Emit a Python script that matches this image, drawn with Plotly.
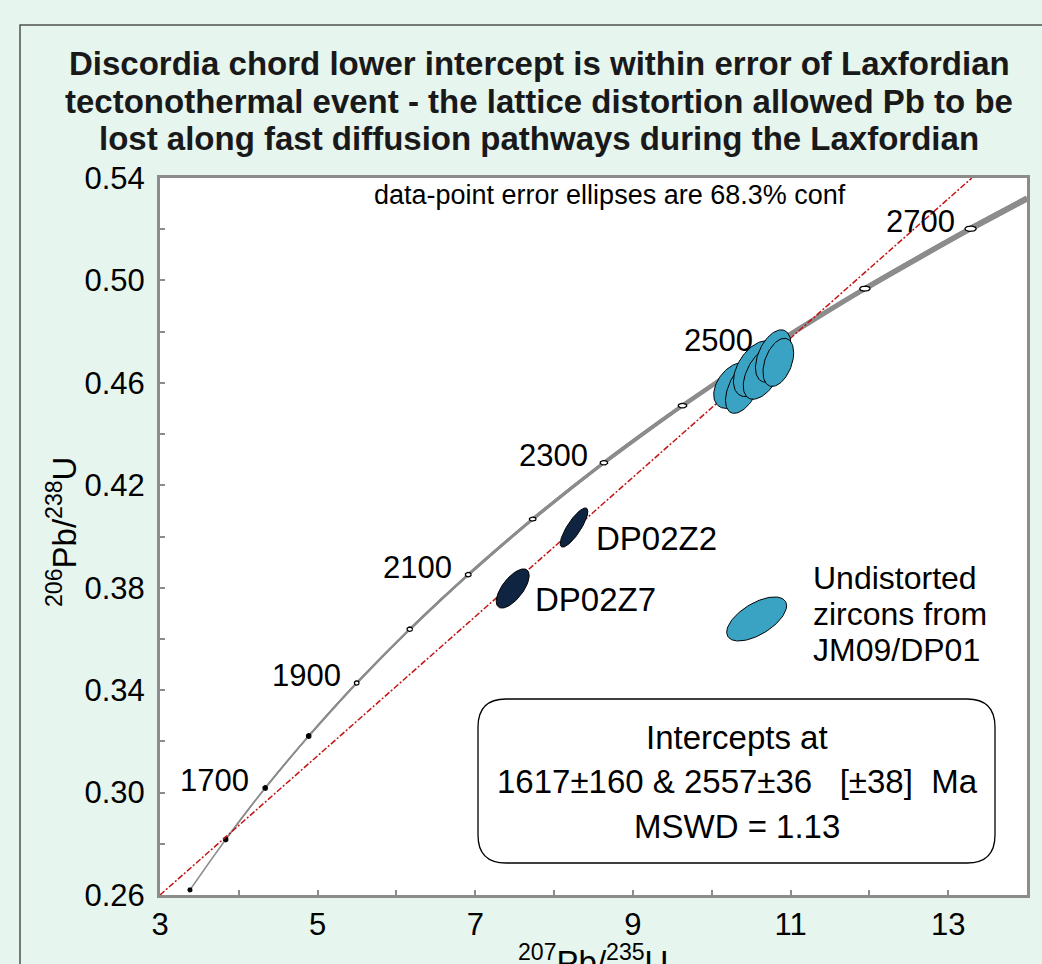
import numpy as np
import plotly.graph_objects as go

# ---------------- data ----------------
conc_age = [1500, 1600, 1700, 1800, 1900, 2000, 2100, 2200, 2300, 2400, 2500, 2600, 2700]
conc_x = [3.381, 3.834, 4.335, 4.887, 5.496, 6.169, 6.911, 7.729, 8.632, 9.629, 10.730, 11.944, 13.284]
conc_y = [0.2620, 0.2817, 0.3018, 0.3221, 0.3428, 0.3638, 0.3851, 0.4068, 0.4288, 0.4511, 0.4738, 0.4968, 0.5202]
conc_end_x = 14.0
conc_end_y = 0.5320
label_ages = [1700, 1900, 2100, 2300, 2500, 2700]

chord_x = [3.0, 13.30]
chord_y = [0.2600, 0.5400]

undist_x = [10.290, 10.405, 10.560, 10.650, 10.780, 10.845]
undist_y = [0.4590, 0.4585, 0.4655, 0.4640, 0.4705, 0.4680]
undist_sx = [0.265, 0.230, 0.285, 0.250, 0.225, 0.195]
undist_sy = [0.00900, 0.01040, 0.01090, 0.01040, 0.0102, 0.00940]
undist_rho = [0.40, 0.52, 0.45, 0.50, 0.45, 0.40]

dp_names = ["DP02Z2", "DP02Z7"]
dp_x = [8.253, 7.475]
dp_y = [0.4035, 0.3797]
dp_sx = [0.175, 0.209]
dp_sy = [0.00765, 0.00765]
dp_rho = [0.82, 0.66]

legend_x = 10.570
legend_y = 0.3678
legend_sx = 0.380
legend_sy = 0.00859
legend_rho = 0.60
legend_lines = ["Undistorted", "zircons from", "JM09/DP01"]

intercept_lines = ["Intercepts at",
                   "1617±160 & 2557±36\u00a0\u00a0\u00a0[±38]\u00a0\u00a0Ma",
                   "MSWD = 1.13"]
title_lines = ["Discordia chord lower intercept is within error of Laxfordian",
               "tectonothermal event - the lattice distortion allowed Pb to be",
               "lost along fast diffusion pathways during the Laxfordian"]
note_text = "data-point error ellipses are 68.3% conf"

x_ticks = list(range(3, 15))
x_tick_text = ["3", "", "5", "", "7", "", "9", "", "11", "", "13", ""]
y_ticks = [0.26, 0.28, 0.30, 0.32, 0.34, 0.36, 0.38, 0.40, 0.42, 0.44, 0.46, 0.48, 0.50, 0.52, 0.54]
y_tick_text = ["0.26", "", "0.30", "", "0.34", "", "0.38", "", "0.42", "", "0.46", "", "0.50", "", "0.54"]

# ---------------- layout geometry ----------------
W, H = 1042, 964
L, R, T, B = 160, 1027, 178, 895
XR = [3, 14]
YR = [0.26, 0.54]
kx = (XR[1] - XR[0]) / (R - L)   # data per px
ky = (YR[1] - YR[0]) / (B - T)

def px_x(p):
    return (p - L) / (R - L)

def px_y(p):
    return (B - p) / (B - T)

FONT = "Liberation Sans, Arial, sans-serif"
GRAY = "rgb(140,140,140)"
TEAL = "rgb(58,163,196)"
NAVY = "rgb(14,36,64)"

def ellipse(cx, cy, sx, sy, rho, n=91):
    t = np.linspace(0, 2 * np.pi, n)
    x = cx + sx * np.cos(t)
    y = cy + sy * (rho * np.cos(t) + np.sqrt(1 - rho ** 2) * np.sin(t))
    return x, y

fig = go.Figure()

# concordia curve, widening with age
cx_all = conc_x + [conc_end_x]
cy_all = conc_y + [conc_end_y]
n = len(conc_x)
for k in range(n):
    w = 1.5 + 4.5 * (k / (n - 1)) ** 1.6
    fig.add_trace(go.Scatter(x=cx_all[k:], y=cy_all[k:], mode="lines",
                             line=dict(color=GRAY, width=w, shape="spline"),
                             hoverinfo="skip"))

# concordia age markers
hw = [2, 2.3, 2.3, 2.3, 2.4, 2.8, 3, 3.4, 3.8, 4.3, 4.8, 5.2, 5.6]
hh = [2, 2.3, 2.3, 2.3, 2.2, 2.2, 2.2, 2.0, 2.2, 2.3, 2.5, 2.5, 2.7]
t = np.linspace(0, 2 * np.pi, 41)
for k in range(n):
    mx = conc_x[k] + hw[k] * kx * np.cos(t)
    my = conc_y[k] + hh[k] * ky * np.sin(t)
    filled = k < 4
    fig.add_trace(go.Scatter(x=mx, y=my, mode="lines", fill="toself",
                             fillcolor="black" if filled else "white",
                             line=dict(color="black", width=1.3),
                             hoverinfo="skip"))

# discordia chord
fig.add_trace(go.Scatter(x=chord_x, y=chord_y, mode="lines",
                         line=dict(color="rgb(195,20,20)", width=1.5, dash="6px,2px,2px,2px"),
                         hoverinfo="skip"))

# undistorted zircons
for i in range(len(undist_x)):
    ex, ey = ellipse(undist_x[i], undist_y[i], undist_sx[i], undist_sy[i], undist_rho[i])
    fig.add_trace(go.Scatter(x=ex, y=ey, mode="lines", fill="toself", fillcolor=TEAL,
                             line=dict(color="black", width=1), hoverinfo="skip"))

# distorted grains
for i in range(len(dp_x)):
    ex, ey = ellipse(dp_x[i], dp_y[i], dp_sx[i], dp_sy[i], dp_rho[i])
    fig.add_trace(go.Scatter(x=ex, y=ey, mode="lines", fill="toself", fillcolor=NAVY,
                             line=dict(color="black", width=1), hoverinfo="skip"))

# legend symbol
ex, ey = ellipse(legend_x, legend_y, legend_sx, legend_sy, legend_rho)
fig.add_trace(go.Scatter(x=ex, y=ey, mode="lines", fill="toself", fillcolor=TEAL,
                         line=dict(color="black", width=1), hoverinfo="skip"))

ann = []
# age labels
for a in label_ages:
    k = conc_age.index(a)
    ann.append(dict(x=conc_x[k], y=conc_y[k], xref="x", yref="y", text=str(a),
                    showarrow=False, xanchor="right", yanchor="middle",
                    xshift=-14, yshift=7, font=dict(family=FONT, size=31, color="black")))
# DP labels
for i, nm in enumerate(dp_names):
    ann.append(dict(x=dp_x[i], y=dp_y[i], xref="x", yref="y", text=nm,
                    showarrow=False, xanchor="left", yanchor="middle",
                    xshift=20, yshift=-11, font=dict(family=FONT, size=33, color="black")))
# legend text
for j, line in enumerate(legend_lines):
    ann.append(dict(x=legend_x, y=legend_y, xref="x", yref="y", text=line,
                    showarrow=False, xanchor="left", yanchor="middle",
                    xshift=54, yshift=41 - 36 * j, font=dict(family=FONT, size=32, color="black")))
# intercept box text
for j, line in enumerate(intercept_lines):
    ann.append(dict(x=px_x(737), y=px_y(737 + 44.5 * j), xref="paper", yref="paper",
                    text=line, showarrow=False, xanchor="center", yanchor="middle",
                    font=dict(family=FONT, size=33, color="black")))
# note
ann.append(dict(x=px_x(610), y=px_y(195), xref="paper", yref="paper", text=note_text,
                showarrow=False, xanchor="center", yanchor="middle",
                font=dict(family=FONT, size=27, color="black")))
# title, one line at a time
for j, line in enumerate(title_lines):
    ann.append(dict(x=px_x(539), y=px_y(64 + 37 * j), xref="paper", yref="paper",
                    text="<b>%s</b>" % line,
                    showarrow=False, xanchor="center", yanchor="middle",
                    font=dict(family=FONT, size=33, color="rgb(25,25,25)")))
# axis titles
ann.append(dict(x=px_x(593), y=px_y(960), xref="paper", yref="paper",
                text="<sup>207</sup>Pb/<sup>235</sup>U", showarrow=False,
                xanchor="center", yanchor="middle",
                font=dict(family=FONT, size=33, color="black")))
ann.append(dict(x=px_x(62), y=px_y(532), xref="paper", yref="paper",
                text="<sup>206</sup>Pb/<sup>238</sup>U", showarrow=False, textangle=-90,
                xanchor="center", yanchor="middle",
                font=dict(family=FONT, size=33, color="black")))

# rounded intercept box
x0, x1 = px_x(478), px_x(995)
y0, y1 = px_y(863), px_y(699)
rx, ry = 28 / (R - L), 28 / (B - T)
box_path = (f"M {x0+rx},{y1} L {x1-rx},{y1} Q {x1},{y1} {x1},{y1-ry} "
            f"L {x1},{y0+ry} Q {x1},{y0} {x1-rx},{y0} L {x0+rx},{y0} "
            f"Q {x0},{y0} {x0},{y0+ry} L {x0},{y1-ry} Q {x0},{y1} {x0+rx},{y1} Z")
shapes = [
    dict(type="path", path=box_path, xref="paper", yref="paper",
         line=dict(color="black", width=1.3), fillcolor="white", layer="above"),
    dict(type="rect", xref="paper", yref="paper",
         x0=px_x(20), x1=px_x(1200), y0=px_y(1100), y1=px_y(25),
         line=dict(color="rgb(80,80,80)", width=1.5), fillcolor="rgba(0,0,0,0)", layer="above"),
]

axis_common = dict(showline=True, linewidth=3, linecolor=GRAY, mirror=True,
                   ticks="inside", ticklen=5, tickwidth=2, tickcolor=GRAY,
                   showgrid=False, zeroline=False, tickmode="array",
                   tickfont=dict(family=FONT, size=31, color="black"))

fig.update_layout(
    width=W, height=H,
    margin=dict(l=L, r=W - R, t=T, b=H - B, pad=0),
    paper_bgcolor="rgb(230,245,238)", plot_bgcolor="white",
    showlegend=False,
    xaxis=dict(range=XR, tickvals=x_ticks, ticktext=x_tick_text, ticklabelstandoff=0, **axis_common),
    yaxis=dict(range=YR, tickvals=y_ticks, ticktext=y_tick_text, ticklabelstandoff=6, **axis_common),
    annotations=ann, shapes=shapes,
)

fig.write_html("out.html")
